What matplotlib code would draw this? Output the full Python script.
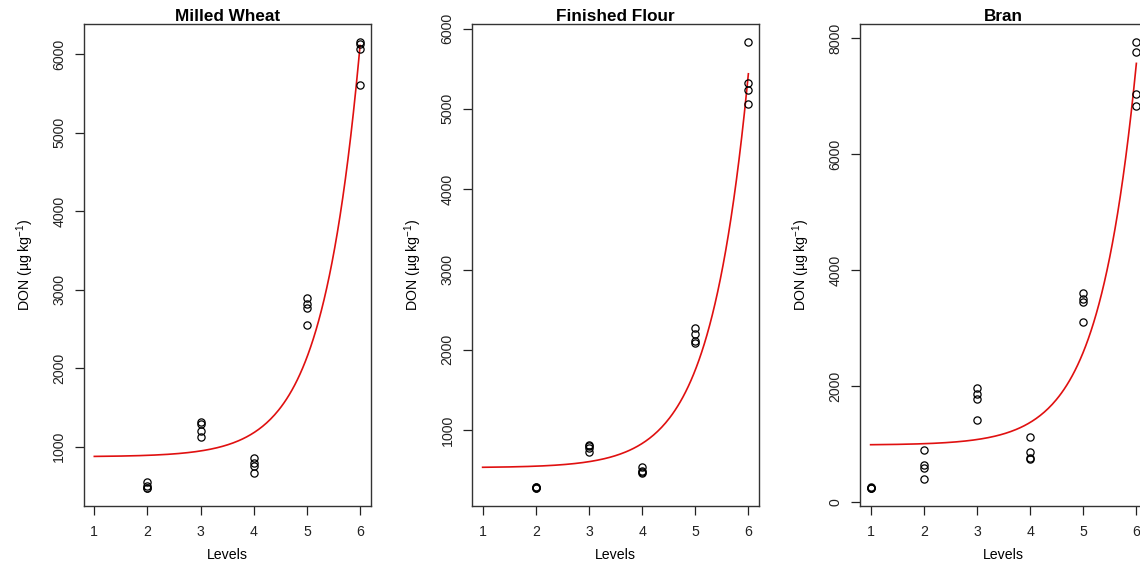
import numpy as np
import matplotlib
matplotlib.use("Agg")
import matplotlib.pyplot as plt

plt.rcParams["font.family"] = ["Liberation Sans", "DejaVu Sans"]
plt.rcParams["mathtext.fontset"] = "custom"
plt.rcParams["mathtext.rm"] = "Liberation Sans"
plt.rcParams["mathtext.it"] = "Liberation Sans:italic"

# ---- data ----
titles = ["Milled Wheat", "Finished Flour", "Bran"]

mw_levels = [2, 2, 2, 2, 3, 3, 3, 3, 4, 4, 4, 4, 5, 5, 5, 5, 6, 6, 6, 6]
mw_don = [550, 500, 475, 470, 1310, 1290, 1200, 1125, 850, 786, 750, 668,
          2886, 2818, 2759, 2545, 6155, 6132, 6060, 5602]

ff_levels = [2, 2, 2, 2, 3, 3, 3, 3, 4, 4, 4, 4, 5, 5, 5, 5, 6, 6, 6, 6]
ff_don = [295, 290, 285, 280, 816, 800, 785, 731, 548, 494, 480, 472,
          2276, 2195, 2106, 2083, 5834, 5328, 5238, 5060]

br_levels = [1, 1, 1, 1, 2, 2, 2, 2, 3, 3, 3, 3, 4, 4, 4, 4, 5, 5, 5, 5, 6, 6, 6, 6]
br_don = [260, 250, 245, 242, 900, 633, 589, 397, 1967, 1873, 1780, 1421,
          1117, 862, 757, 738, 3610, 3499, 3455, 3102, 7934, 7754, 7041, 6836]

# exponential fit y = a + b*exp(c*x), parameters
mw_fit = (870, 1.045, 1.42)
ff_fit = (535, 1.129, 1.396)
br_fit = (985, 1.36, 1.414)

x_ticks = [1, 2, 3, 4, 5, 6]
mw_yticks = [1000, 2000, 3000, 4000, 5000, 6000]
ff_yticks = [1000, 2000, 3000, 4000, 5000, 6000]
br_yticks = [0, 2000, 4000, 6000, 8000]

panels = [
    (mw_levels, mw_don, mw_fit, mw_yticks),
    (ff_levels, ff_don, ff_fit, ff_yticks),
    (br_levels, br_don, br_fit, br_yticks),
]

W, H = 1140, 564
fig = plt.figure(figsize=(W / 100, H / 100), dpi=100)

lefts = [83.7, 472.0, 860.0]   # px
ax_w, ax_top, ax_bot = 287.0, 24.0, 506.0

for k, (lev, don, fit, yt) in enumerate(panels):
    ax = fig.add_axes([lefts[k] / W, 1 - ax_bot / H, ax_w / W, (ax_bot - ax_top) / H])

    ax.plot(lev, don, "o", mfc="none", mec="black", ms=5.2, mew=0.9, zorder=3)

    a, b, c = fit
    xs = np.linspace(1, 6, 200)
    ax.plot(xs, a + b * np.exp(c * xs), color="#e01010", lw=1.2, zorder=2)

    # R-style 4% padding around the data
    lo, hi = min(don), max(don)
    r = hi - lo
    ax.set_ylim(lo - 0.04 * r, hi + 0.04 * r)
    ax.set_xlim(0.8, 6.2)

    ax.set_xticks(x_ticks)
    ax.set_yticks(yt)
    ax.tick_params(direction="out", length=6.5, width=0.9, labelsize=10.2,
                   colors="#222222")
    ax.tick_params(axis="x", pad=7)
    ax.tick_params(axis="y", pad=6)
    for lab in ax.get_yticklabels():
        lab.set_rotation(90)
        lab.set_va("center")
        lab.set_ha("right")

    for s in ax.spines.values():
        s.set_linewidth(1.0)
        s.set_color("#333333")

    ax.set_title(titles[k], fontsize=12.3, fontweight="bold", pad=2)
    ax.set_xlabel("Levels", fontsize=10.2, labelpad=7)
    ax.set_ylabel("DON (µg kg$^{-1}$)", fontsize=10.2, labelpad=12)

fig.savefig("out.png", dpi=100)
